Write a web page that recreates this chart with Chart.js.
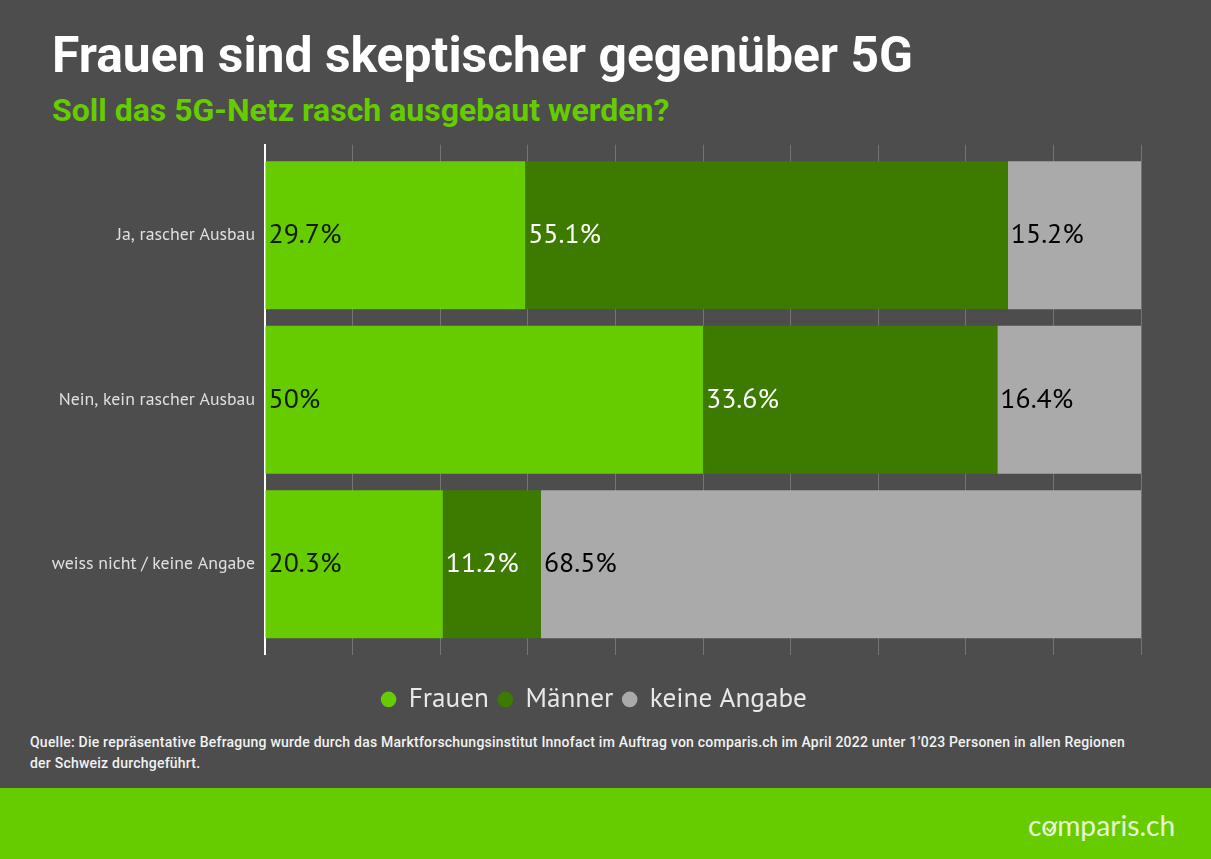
<!DOCTYPE html>
<html lang="de">
<head>
<meta charset="utf-8">
<title>Frauen sind skeptischer gegenüber 5G</title>
<script src="https://cdn.jsdelivr.net/npm/chart.js@4"></script>
<style>
  html, body { margin: 0; padding: 0; background: #4d4d4d; overflow: hidden; }
  #page { position: relative; width: 1211px; height: 859px; background: #4d4d4d; font-family: Roboto, sans-serif; }
  #page div { position: absolute; white-space: nowrap; }
  #title { left: 52px; top: 25px; font-size: 49.8px; line-height: 60px; font-weight: 700; color: #fff; }
  #subtitle { left: 52px; top: 92px; font-size: 32px; line-height: 36px; font-weight: 700; color: #66cc00; }
  #source { left: 30px; top: 732px; font-size: 14px; line-height: 21px; font-weight: 500; letter-spacing: 0.225px; color: #f2f2f2; }
  #band { left: 0; top: 788px; width: 1211px; height: 71px; background: #66cc00; }
  #logo { left: 1028px; top: 804px; font-family: Lato, sans-serif; font-size: 28.2px; line-height: 42px; color: #e8f7d0; }
  #check { position: absolute; left: 1043px; top: 818px; }
  #chartBox { position: absolute; left: 0; top: 124px; width: 1211px; height: 599px; }
</style>
</head>
<body>
<div id="page">
  <div id="title">Frauen sind skeptischer gegenüber 5G</div>
  <div id="subtitle">Soll das 5G-Netz rasch ausgebaut werden?</div>
  <div id="chartBox"><canvas id="surveyChart"></canvas></div>
  <div id="source">Quelle: Die repräsentative Befragung wurde durch das Marktforschungsinstitut Innofact im Auftrag von comparis.ch im April 2022 unter 1’023 Personen in allen Regionen<br>der Schweiz durchgeführt.</div>
  <div id="band"></div>
  <div id="logo">comparis.ch</div>
  <svg id="check" width="18" height="18" viewBox="0 0 18 18"><path d="M3.5 10 L7 13.5 L14 3.5" fill="none" stroke="#e8f7d0" stroke-width="1.8"/></svg>
</div>
<script>
const categories = ['Ja, rascher Ausbau', 'Nein, kein rascher Ausbau', 'weiss nicht / keine Angabe'];
const frauen = [29.7, 50, 20.3];
const maenner = [55.1, 33.6, 11.2];
const keineAngabe = [15.2, 16.4, 68.5];

const seriesNames = ['Frauen', 'Männer', 'keine Angabe'];
const seriesColors = ['#66cc00', '#3d7a00', '#aaaaaa'];
const labelColors = ['#0d1a00', '#ffffff', '#000000'];
const chartFont = '"PT Sans", Lato, sans-serif';

// Prozentwerte direkt in die Balken schreiben
const barLabels = {
  id: 'barLabels',
  afterDatasetsDraw(chart) {
    const ctx = chart.ctx;
    ctx.save();
    ctx.font = '27.8px ' + chartFont;
    ctx.textAlign = 'left';
    ctx.textBaseline = 'middle';
    chart.data.datasets.forEach((dataset, i) => {
      ctx.fillStyle = labelColors[i];
      chart.getDatasetMeta(i).data.forEach((bar, j) => {
        ctx.fillText(dataset.data[j].x + '%', bar.base + 3, bar.y);
      });
    });
    ctx.restore();
  }
};

new Chart(document.getElementById('surveyChart'), {
  type: 'bar',
  data: {
    // lineare y-Achse: so bleibt oben und unten ein ganzer Balkenabstand frei
    datasets: [frauen, maenner, keineAngabe].map((values, i) => ({
      label: seriesNames[i],
      data: values.map((v, j) => ({ x: v, y: j })),
      backgroundColor: seriesColors[i],
      categoryPercentage: 0.9,
      barPercentage: 1
    }))
  },
  options: {
    indexAxis: 'y',
    responsive: true,
    maintainAspectRatio: false,
    animation: false,
    layout: { padding: { top: 8, right: 70, left: 48, bottom: 0 } },
    scales: {
      x: {
        stacked: true,
        min: 0,
        max: 100,
        afterFit(scale) { scale.height = 21; },
        ticks: { display: false, stepSize: 10 },
        grid: { color: 'rgba(255,255,255,0.22)', drawTicks: false },
        border: { display: false }
      },
      y: {
        type: 'linear',
        stacked: true,
        offset: false,
        reverse: true,
        min: -0.55,
        max: 2.55,
        afterFit(scale) { scale.width = 217; },
        // nur die ganzzahligen Ticks behalten, das sind die Kategorien
        afterBuildTicks(scale) { scale.ticks = scale.ticks.filter(t => Number.isInteger(t.value)); },
        ticks: {
          stepSize: 1,
          autoSkip: false,
          color: '#e0e0e0',
          padding: 10,
          font: { family: chartFont, size: 17.8 },
          callback: value => categories[value]
        },
        grid: { display: false, drawTicks: false, offset: false },
        border: { color: '#ffffff', width: 2 }
      }
    },
    plugins: {
      tooltip: { enabled: false },
      legend: {
        position: 'bottom',
        labels: {
          color: '#e8e8e8',
          usePointStyle: true,
          boxWidth: 13,
          boxHeight: 11,
          padding: 10,
          font: { family: chartFont, size: 27.2 }
        }
      }
    }
  },
  plugins: [barLabels]
});
</script>
</body>
</html>
